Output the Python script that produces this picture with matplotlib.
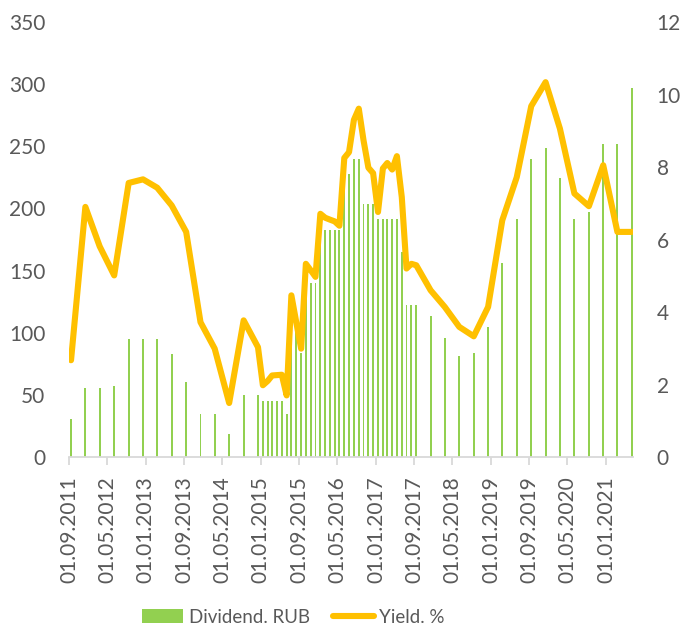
import numpy as np
import pandas as pd
import matplotlib
matplotlib.use('Agg')
import matplotlib.pyplot as plt
from matplotlib.lines import Line2D
from matplotlib.patches import Patch

plt.rcParams['font.family'] = ['Lato', 'DejaVu Sans']

# quarterly 2011-2014, monthly 2015 - 09.2017, quarterly again up to mid 2021
dates = list(pd.date_range('2011-09-01', '2014-12-01', freq='3MS')) \
    + list(pd.date_range('2015-01-01', '2017-09-01', freq='MS')) \
    + list(pd.date_range('2017-12-01', '2021-06-01', freq='3MS'))
dates = [d + pd.Timedelta(days=13) for d in dates]

dividend = [
    30.9, 55.6, 55.6, 57.0, 95.0, 95.0, 95.0, 82.5, 60.0, 35.0, 35.0, 18.8, 49.7, 49.7,
    44.9, 44.9, 44.9, 44.9, 44.9, 35.0, 104.0, 104.0, 83.3, 140.0, 140.0, 140.0,
    182.6, 182.6, 182.6, 182.6, 182.6, 227.7, 227.7, 239.5, 239.5, 203.5, 203.5, 203.5,
    191.7, 191.7, 191.7, 191.7, 191.7, 164.6, 122.7, 122.7, 122.7,
    113.6, 95.9, 81.1, 83.5, 104.7, 155.8, 191.7, 239.8, 248.4, 224.8, 191.5, 197.4,
    251.6, 251.6, 296.8,
]
yield_pct = [
    2.67, 6.90, 5.81, 5.01, 7.56, 7.66, 7.43, 6.94, 6.21, 3.72, 2.99, 1.49, 3.77, 3.03,
    1.98, 2.10, 2.25, 2.26, 2.27, 1.70, 4.46, 3.72, 2.99, 5.33, 5.15, 4.97,
    6.71, 6.60, 6.55, 6.50, 6.38, 8.25, 8.41, 9.30, 9.61, 8.74, 7.98, 7.83,
    6.76, 7.96, 8.11, 7.93, 8.30, 7.17, 5.20, 5.33, 5.29,
    4.60, 4.14, 3.59, 3.33, 4.14, 6.53, 7.72, 9.68, 10.34, 9.06, 7.27, 6.92,
    8.05, 6.21, 6.21,
]
tick_labels = ['01.09.2011', '01.05.2012', '01.01.2013', '01.09.2013', '01.05.2014',
               '01.01.2015', '01.09.2015', '01.05.2016', '01.01.2017', '01.09.2017',
               '01.05.2018', '01.01.2019', '01.09.2019', '01.05.2020', '01.01.2021']

green = '#92D050'
yellow = '#FFC000'
grey = '#595959'

fig = plt.figure(figsize=(6.81, 6.29), dpi=100)
ax = fig.add_axes([0.1013, 0.2734, 0.8282, 0.6916])
ax2 = ax.twinx()

ax.bar(dates, dividend, width=12, color=green, linewidth=0, zorder=2)
ax2.plot(dates, yield_pct, color=yellow, lw=4.4, solid_joinstyle='round',
         solid_capstyle='round', zorder=3)

ax.set_ylim(0, 350)
ax.set_yticks(np.arange(0, 351, 50))
ax2.set_ylim(0, 12)
ax2.set_yticks(np.arange(0, 13, 2))

ticks = pd.to_datetime(tick_labels, format='%d.%m.%Y')
ax.set_xticks(ticks)
ax.set_xticklabels(tick_labels, rotation=90)
ax.set_xlim(pd.Timestamp('2011-09-01'), dates[-1] + pd.Timedelta(days=7))

for a in (ax, ax2):
    for s in a.spines.values():
        s.set_visible(False)
ax.spines['bottom'].set_visible(True)
ax.spines['bottom'].set_color('#D9D9D9')
ax.spines['bottom'].set_linewidth(1.3)

ax.tick_params(axis='x', length=6, width=1.3, color='#D9D9D9', pad=8,
               labelsize=15, labelcolor=grey)
ax.tick_params(axis='y', length=0, pad=17, labelsize=15, labelcolor=grey)
ax2.tick_params(axis='y', length=0, pad=17, labelsize=15, labelcolor=grey)

handles = [Patch(facecolor=green, edgecolor='none'),
           Line2D([0], [0], color=yellow, lw=4.4, solid_capstyle='round')]
fig.legend(handles, ['Dividend. RUB', 'Yield. %'], loc='center', ncol=2,
           bbox_to_anchor=(0.431, 0.019), frameon=False, fontsize=13.5,
           labelcolor=grey, handlelength=2.2, handleheight=0.75,
           handletextpad=0.3, columnspacing=1.2, borderpad=0.1)

fig.savefig('out.png', dpi=100)
